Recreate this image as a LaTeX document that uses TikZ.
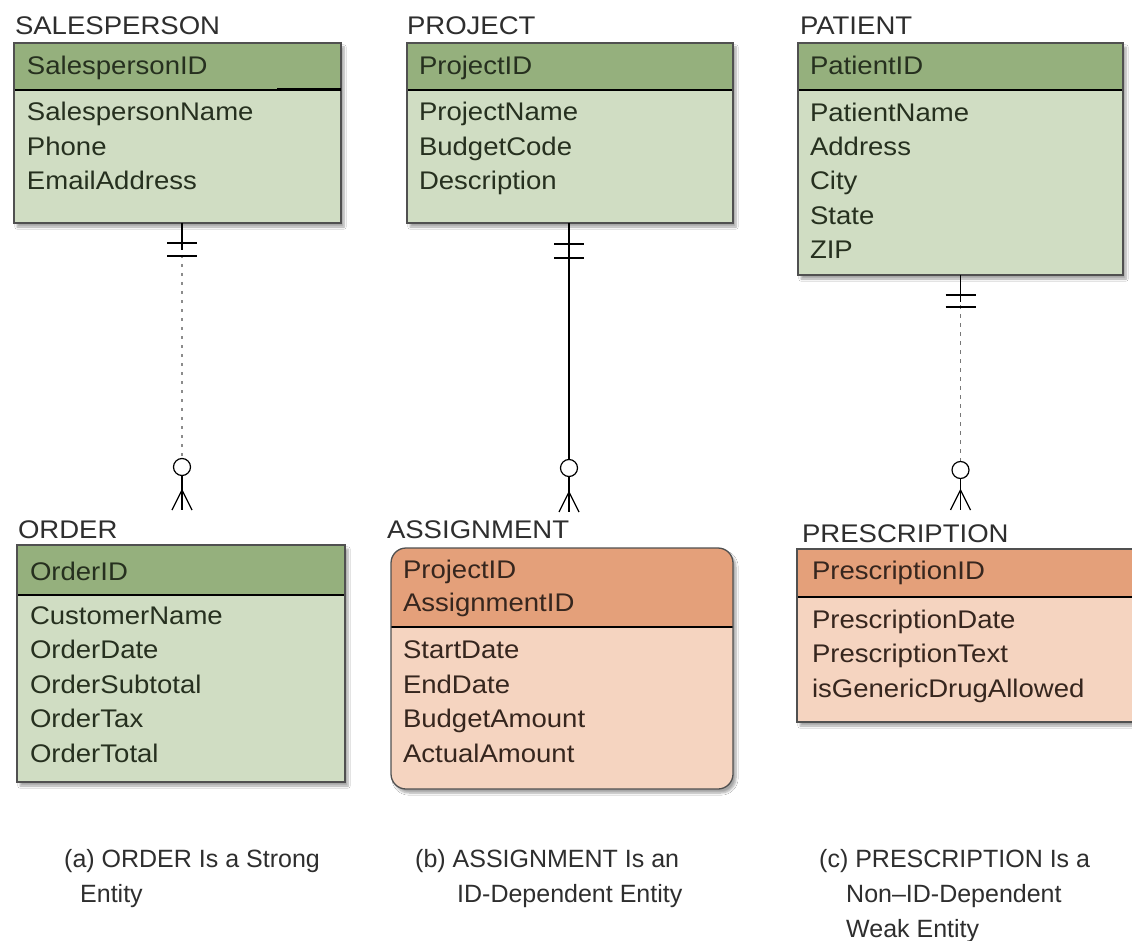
\documentclass[tikz,border=0pt]{standalone}
\usepackage{fontspec}
\setmainfont{Liberation Sans}[FakeStretch=1.08]
\newfontfamily\capfont{Liberation Sans}
\usetikzlibrary{shadows.blur,calc}

\definecolor{grnhead}{HTML}{95B07D}
\definecolor{grnbody}{HTML}{D0DDC3}
\definecolor{orghead}{HTML}{E4A07A}
\definecolor{orgbody}{HTML}{F5D4C0}
\definecolor{edge}{HTML}{505050}
\definecolor{inkg}{HTML}{26301F}
\definecolor{inko}{HTML}{36261E}
\definecolor{ink}{HTML}{2E2E2E}
\definecolor{dotg}{HTML}{8C8C8C}

\begin{document}
\begin{tikzpicture}[x=1pt,y=-1pt,
  entity/.style={draw=edge, line width=1.3pt, inner sep=0pt, outer sep=0pt,
    anchor=north west,
    blur shadow={shadow xshift=3pt, shadow yshift=-4pt, shadow blur steps=6, shadow opacity=35}},
  head/.style 2 args={path picture={
    \fill[#1, sharp corners] (path picture bounding box.north west) rectangle
      ([yshift=-#2pt]path picture bounding box.north east);
    \draw[black, line width=1.4pt, sharp corners] ([yshift=-#2pt]path picture bounding box.north west) --
      ([yshift=-#2pt]path picture bounding box.north east);}},
  greenbox/.style={entity, fill=grnbody, head={grnhead}{#1}},
  orangebox/.style={entity, fill=orgbody, head={orghead}{#1}},
  % multi-line texts are placed by the baseline of their last line
  txt/.style={inner sep=0pt, outer sep=0pt, anchor=base west, align=left,
    font=\fontsize{25.5}{34.5}\selectfont},
  gtxt/.style={txt, text=inkg},
  otxt/.style={txt, text=inko},
  title/.style={txt, text=ink},
  captext/.style={inner sep=0pt, anchor=base west, text=ink,
    font=\capfont\fontsize{25}{35}\selectfont},
  conn/.style={line width=1.2pt, black},
  bar/.style={line width=1.8pt, black},
  dotline/.style={line width=2.4pt, dotg, dash pattern=on 3pt off 6pt},
  dashline/.style={line width=1.7pt, dotg!85!black, dash pattern=on 4pt off 5pt},
  zeromany/.pic={
    \draw[conn, fill=white] (0,-#1) circle[radius=8.5pt];
    \draw[conn] (0,{-#1+8.5}) -- (0,0);
    \draw[conn] (0,-20) -- (-10,0);
    \draw[conn] (0,-20) -- (10,0);
  }
]
\useasboundingbox (0,0) rectangle (1132,941);
\clip (0,0) rectangle (1132,941);
\fill[white] (0,0) rectangle (1132,941);

% ---------- entity boxes ----------
\node[greenbox=47, minimum width=327pt, minimum height=180pt] (sp) at (14,43) {};
\draw[black, line width=3pt] (277,90) -- (sp.east |- 0,90);
\node[greenbox=47, minimum width=326pt, minimum height=180pt] (proj) at (407,43) {};
\node[greenbox=47, minimum width=325pt, minimum height=232pt] (pat) at (798,43) {};

\node[greenbox=50, minimum width=328pt, minimum height=237pt] (ord) at (17,545) {};
\node[orangebox=79, rounded corners=15pt, minimum width=342pt, minimum height=241pt] (asg) at (391,548) {};
\draw[black, line width=2.4pt] (667,627) -- (731,627);
\node[orangebox=48, minimum width=350pt, minimum height=173pt] (pre) at (797,549) {};

% ---------- entity names ----------
\node[title] (spt) at (15,35) {SALESPERSON};
\node[title] (projt) at (407,35) {PROJECT};
\node[title] (patt) at (800,35) {PATIENT};
\node[title] (ordt) at (18,538) {ORDER};
\node[title] (asgt) at (387,538) {ASSIGNMENT};
\node[title] (pret) at (802,542) {PRESCRIPTION};

% ---------- keys and attributes ----------
\node[gtxt] (spk) at (27,75) {SalespersonID};
\node[gtxt] (spa) at (27,190) {SalespersonName\\Phone\\EmailAddress};
\node[gtxt] (projk) at (419,75) {ProjectID};
\node[gtxt] (proja) at (419,190) {ProjectName\\BudgetCode\\Description};
\node[gtxt] (patk) at (810,75) {PatientID};
\node[gtxt] (pata) at (810,259) {PatientName\\Address\\City\\State\\ZIP};

\node[gtxt] (ordk) at (30,580) {OrderID};
\node[gtxt] (orda) at (30,762) {CustomerName\\OrderDate\\OrderSubtotal\\OrderTax\\OrderTotal};
\node[otxt, font=\fontsize{25.5}{33}\selectfont] (asgk) at (403,611) {ProjectID\\AssignmentID};
\node[otxt] (asga) at (403,762) {StartDate\\EndDate\\BudgetAmount\\ActualAmount};
\node[otxt] (prek) at (812,579) {PrescriptionID};
\node[otxt] (prea) at (812,697) {PrescriptionDate\\PrescriptionText\\isGenericDrugAllowed};

% ---------- relationships ----------
% (a) SALESPERSON to ORDER: non-identifying, optional many
\coordinate (a0) at ([xshift=4.5pt]sp.south);
\coordinate (a1) at (a0 |- 0,510);
\draw[conn] (a0) -- ($(a0)+(0,27)$);
\draw[dotline] ($(a0)+(0,32)$) -- ($(a1)+(0,-51)$);
\draw[bar] ($(a0)+(-15,20)$) -- ($(a0)+(15,20)$);
\draw[bar] ($(a0)+(-15,33)$) -- ($(a0)+(15,33)$);
\pic at (a1) {zeromany=43};

% (b) PROJECT to ASSIGNMENT: identifying, optional many
\coordinate (b0) at ([xshift=-1pt]proj.south);
\coordinate (b1) at (b0 |- 0,512);
\draw[conn] (b0) -- ($(b1)+(0,-52)$);
\draw[bar] ($(b0)+(-15,21)$) -- ($(b0)+(15,21)$);
\draw[bar] ($(b0)+(-15,35)$) -- ($(b0)+(15,35)$);
\pic at (b1) {zeromany=44};

% (c) PATIENT to PRESCRIPTION: non-identifying, optional many
\coordinate (c0) at (pat.south);
\coordinate (c1) at (c0 |- 0,510);
\draw[conn] (c0) -- ($(c0)+(0,27)$);
\draw[dashline] ($(c0)+(0,30)$) -- ($(c1)+(0,-49)$);
\draw[bar] ($(c0)+(-15,20)$) -- ($(c0)+(15,20)$);
\draw[bar] ($(c0)+(-15,32)$) -- ($(c0)+(15,32)$);
\pic at (c1) {zeromany=40};

% ---------- captions ----------
\node[captext] (capa1) at (64,867) {(a) ORDER Is a Strong};
\node[captext] (capa2) at (80,902) {Entity};
\node[captext] (capb1) at (415,867) {(b) ASSIGNMENT Is an};
\node[captext] (capb2) at (457,902) {ID-Dependent Entity};
\node[captext] (capc1) at (819,867) {(c) PRESCRIPTION Is a};
\node[captext] (capc2) at (846,902) {Non–ID-Dependent};
\node[captext] (capc3) at (846,937) {Weak Entity};
\end{tikzpicture}
\end{document}
